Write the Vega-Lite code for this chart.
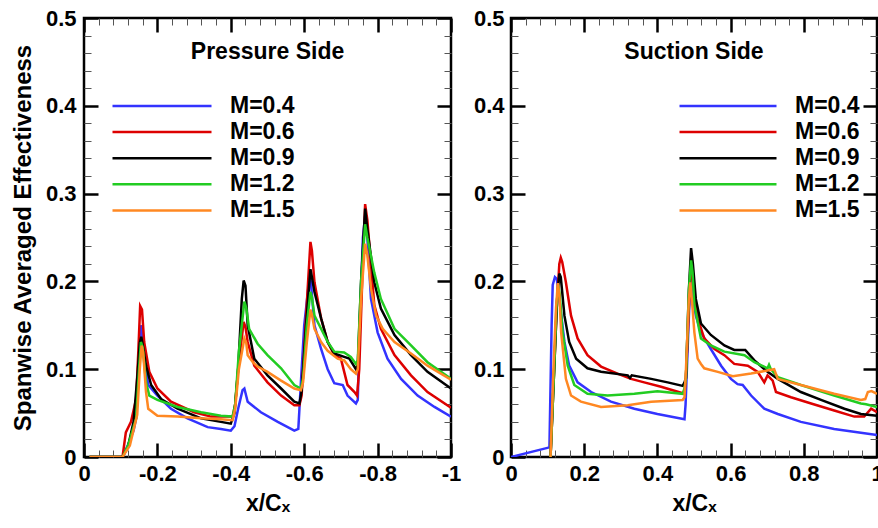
{
 "$schema": "https://vega.github.io/schema/vega-lite/v6.json",
 "padding": {"left": 10, "top": 5, "right": 0, "bottom": 0},
 "background": "white",
 "spacing": 60,
 "bounds": "flush",
 "datasets": {
  "ps": [
   {"x":-0.015,"e":0,"M":"M=0.4"},{"x":-0.105,"e":0,"M":"M=0.4"},{"x":-0.119,"e":0.013,"M":"M=0.4"},{"x":-0.135,"e":0.03,"M":"M=0.4"},{"x":-0.142,"e":0.044,"M":"M=0.4"},{"x":-0.148,"e":0.09,"M":"M=0.4"},{"x":-0.155,"e":0.15,"M":"M=0.4"},{"x":-0.159,"e":0.14,"M":"M=0.4"},{"x":-0.164,"e":0.112,"M":"M=0.4"},{"x":-0.175,"e":0.082,"M":"M=0.4"},{"x":-0.2,"e":0.07,"M":"M=0.4"},{"x":-0.237,"e":0.055,"M":"M=0.4"},{"x":-0.282,"e":0.044,"M":"M=0.4"},{"x":-0.337,"e":0.034,"M":"M=0.4"},{"x":-0.373,"e":0.032,"M":"M=0.4"},{"x":-0.4,"e":0.03,"M":"M=0.4"},{"x":-0.41,"e":0.035,"M":"M=0.4"},{"x":-0.42,"e":0.055,"M":"M=0.4"},{"x":-0.432,"e":0.076,"M":"M=0.4"},{"x":-0.437,"e":0.078,"M":"M=0.4"},{"x":-0.446,"e":0.063,"M":"M=0.4"},{"x":-0.482,"e":0.051,"M":"M=0.4"},{"x":-0.528,"e":0.04,"M":"M=0.4"},{"x":-0.573,"e":0.03,"M":"M=0.4"},{"x":-0.584,"e":0.032,"M":"M=0.4"},{"x":-0.591,"e":0.085,"M":"M=0.4"},{"x":-0.6,"e":0.15,"M":"M=0.4"},{"x":-0.614,"e":0.203,"M":"M=0.4"},{"x":-0.618,"e":0.2,"M":"M=0.4"},{"x":-0.628,"e":0.15,"M":"M=0.4"},{"x":-0.646,"e":0.123,"M":"M=0.4"},{"x":-0.664,"e":0.1,"M":"M=0.4"},{"x":-0.682,"e":0.084,"M":"M=0.4"},{"x":-0.705,"e":0.082,"M":"M=0.4"},{"x":-0.718,"e":0.07,"M":"M=0.4"},{"x":-0.741,"e":0.061,"M":"M=0.4"},{"x":-0.746,"e":0.065,"M":"M=0.4"},{"x":-0.752,"e":0.16,"M":"M=0.4"},{"x":-0.76,"e":0.25,"M":"M=0.4"},{"x":-0.766,"e":0.275,"M":"M=0.4"},{"x":-0.772,"e":0.25,"M":"M=0.4"},{"x":-0.782,"e":0.18,"M":"M=0.4"},{"x":-0.8,"e":0.142,"M":"M=0.4"},{"x":-0.827,"e":0.112,"M":"M=0.4"},{"x":-0.864,"e":0.089,"M":"M=0.4"},{"x":-0.909,"e":0.07,"M":"M=0.4"},{"x":-0.955,"e":0.057,"M":"M=0.4"},{"x":-1,"e":0.046,"M":"M=0.4"},
   {"x":-0.015,"e":0,"M":"M=0.6"},{"x":-0.105,"e":0,"M":"M=0.6"},{"x":-0.114,"e":0.028,"M":"M=0.6"},{"x":-0.128,"e":0.04,"M":"M=0.6"},{"x":-0.142,"e":0.066,"M":"M=0.6"},{"x":-0.148,"e":0.12,"M":"M=0.6"},{"x":-0.153,"e":0.172,"M":"M=0.6"},{"x":-0.158,"e":0.168,"M":"M=0.6"},{"x":-0.164,"e":0.131,"M":"M=0.6"},{"x":-0.178,"e":0.097,"M":"M=0.6"},{"x":-0.2,"e":0.078,"M":"M=0.6"},{"x":-0.237,"e":0.063,"M":"M=0.6"},{"x":-0.3,"e":0.051,"M":"M=0.6"},{"x":-0.346,"e":0.046,"M":"M=0.6"},{"x":-0.405,"e":0.046,"M":"M=0.6"},{"x":-0.412,"e":0.06,"M":"M=0.6"},{"x":-0.42,"e":0.1,"M":"M=0.6"},{"x":-0.435,"e":0.154,"M":"M=0.6"},{"x":-0.44,"e":0.148,"M":"M=0.6"},{"x":-0.446,"e":0.131,"M":"M=0.6"},{"x":-0.464,"e":0.104,"M":"M=0.6"},{"x":-0.5,"e":0.085,"M":"M=0.6"},{"x":-0.537,"e":0.07,"M":"M=0.6"},{"x":-0.573,"e":0.059,"M":"M=0.6"},{"x":-0.587,"e":0.059,"M":"M=0.6"},{"x":-0.593,"e":0.07,"M":"M=0.6"},{"x":-0.605,"e":0.16,"M":"M=0.6"},{"x":-0.617,"e":0.245,"M":"M=0.6"},{"x":-0.621,"e":0.235,"M":"M=0.6"},{"x":-0.628,"e":0.199,"M":"M=0.6"},{"x":-0.646,"e":0.158,"M":"M=0.6"},{"x":-0.664,"e":0.131,"M":"M=0.6"},{"x":-0.682,"e":0.116,"M":"M=0.6"},{"x":-0.7,"e":0.112,"M":"M=0.6"},{"x":-0.709,"e":0.097,"M":"M=0.6"},{"x":-0.718,"e":0.082,"M":"M=0.6"},{"x":-0.737,"e":0.074,"M":"M=0.6"},{"x":-0.744,"e":0.07,"M":"M=0.6"},{"x":-0.75,"e":0.1,"M":"M=0.6"},{"x":-0.758,"e":0.2,"M":"M=0.6"},{"x":-0.766,"e":0.288,"M":"M=0.6"},{"x":-0.772,"e":0.27,"M":"M=0.6"},{"x":-0.791,"e":0.173,"M":"M=0.6"},{"x":-0.809,"e":0.146,"M":"M=0.6"},{"x":-0.846,"e":0.116,"M":"M=0.6"},{"x":-0.891,"e":0.093,"M":"M=0.6"},{"x":-0.936,"e":0.074,"M":"M=0.6"},{"x":-1,"e":0.056,"M":"M=0.6"},
   {"x":-0.015,"e":0,"M":"M=0.9"},{"x":-0.105,"e":0,"M":"M=0.9"},{"x":-0.12,"e":0.012,"M":"M=0.9"},{"x":-0.135,"e":0.04,"M":"M=0.9"},{"x":-0.145,"e":0.09,"M":"M=0.9"},{"x":-0.152,"e":0.13,"M":"M=0.9"},{"x":-0.156,"e":0.137,"M":"M=0.9"},{"x":-0.16,"e":0.128,"M":"M=0.9"},{"x":-0.169,"e":0.104,"M":"M=0.9"},{"x":-0.183,"e":0.082,"M":"M=0.9"},{"x":-0.21,"e":0.066,"M":"M=0.9"},{"x":-0.255,"e":0.055,"M":"M=0.9"},{"x":-0.319,"e":0.044,"M":"M=0.9"},{"x":-0.373,"e":0.04,"M":"M=0.9"},{"x":-0.4,"e":0.038,"M":"M=0.9"},{"x":-0.41,"e":0.05,"M":"M=0.9"},{"x":-0.42,"e":0.1,"M":"M=0.9"},{"x":-0.43,"e":0.18,"M":"M=0.9"},{"x":-0.435,"e":0.201,"M":"M=0.9"},{"x":-0.44,"e":0.195,"M":"M=0.9"},{"x":-0.446,"e":0.15,"M":"M=0.9"},{"x":-0.464,"e":0.112,"M":"M=0.9"},{"x":-0.5,"e":0.093,"M":"M=0.9"},{"x":-0.537,"e":0.078,"M":"M=0.9"},{"x":-0.573,"e":0.063,"M":"M=0.9"},{"x":-0.587,"e":0.061,"M":"M=0.9"},{"x":-0.593,"e":0.075,"M":"M=0.9"},{"x":-0.605,"e":0.15,"M":"M=0.9"},{"x":-0.617,"e":0.214,"M":"M=0.9"},{"x":-0.621,"e":0.205,"M":"M=0.9"},{"x":-0.628,"e":0.188,"M":"M=0.9"},{"x":-0.646,"e":0.158,"M":"M=0.9"},{"x":-0.664,"e":0.131,"M":"M=0.9"},{"x":-0.682,"e":0.118,"M":"M=0.9"},{"x":-0.709,"e":0.114,"M":"M=0.9"},{"x":-0.723,"e":0.112,"M":"M=0.9"},{"x":-0.741,"e":0.1,"M":"M=0.9"},{"x":-0.746,"e":0.105,"M":"M=0.9"},{"x":-0.755,"e":0.2,"M":"M=0.9"},{"x":-0.766,"e":0.283,"M":"M=0.9"},{"x":-0.772,"e":0.26,"M":"M=0.9"},{"x":-0.791,"e":0.199,"M":"M=0.9"},{"x":-0.809,"e":0.169,"M":"M=0.9"},{"x":-0.846,"e":0.139,"M":"M=0.9"},{"x":-0.891,"e":0.116,"M":"M=0.9"},{"x":-0.936,"e":0.097,"M":"M=0.9"},{"x":-1,"e":0.078,"M":"M=0.9"},
   {"x":-0.015,"e":0,"M":"M=1.2"},{"x":-0.105,"e":0,"M":"M=1.2"},{"x":-0.12,"e":0.013,"M":"M=1.2"},{"x":-0.142,"e":0.044,"M":"M=1.2"},{"x":-0.15,"e":0.1,"M":"M=1.2"},{"x":-0.155,"e":0.131,"M":"M=1.2"},{"x":-0.16,"e":0.125,"M":"M=1.2"},{"x":-0.169,"e":0.085,"M":"M=1.2"},{"x":-0.178,"e":0.07,"M":"M=1.2"},{"x":-0.2,"e":0.065,"M":"M=1.2"},{"x":-0.255,"e":0.057,"M":"M=1.2"},{"x":-0.319,"e":0.051,"M":"M=1.2"},{"x":-0.373,"e":0.047,"M":"M=1.2"},{"x":-0.405,"e":0.046,"M":"M=1.2"},{"x":-0.412,"e":0.06,"M":"M=1.2"},{"x":-0.422,"e":0.12,"M":"M=1.2"},{"x":-0.437,"e":0.177,"M":"M=1.2"},{"x":-0.442,"e":0.17,"M":"M=1.2"},{"x":-0.45,"e":0.146,"M":"M=1.2"},{"x":-0.473,"e":0.129,"M":"M=1.2"},{"x":-0.5,"e":0.116,"M":"M=1.2"},{"x":-0.537,"e":0.101,"M":"M=1.2"},{"x":-0.573,"e":0.082,"M":"M=1.2"},{"x":-0.591,"e":0.078,"M":"M=1.2"},{"x":-0.597,"e":0.09,"M":"M=1.2"},{"x":-0.607,"e":0.15,"M":"M=1.2"},{"x":-0.617,"e":0.188,"M":"M=1.2"},{"x":-0.621,"e":0.182,"M":"M=1.2"},{"x":-0.628,"e":0.161,"M":"M=1.2"},{"x":-0.646,"e":0.146,"M":"M=1.2"},{"x":-0.664,"e":0.131,"M":"M=1.2"},{"x":-0.682,"e":0.12,"M":"M=1.2"},{"x":-0.709,"e":0.119,"M":"M=1.2"},{"x":-0.727,"e":0.114,"M":"M=1.2"},{"x":-0.741,"e":0.106,"M":"M=1.2"},{"x":-0.746,"e":0.11,"M":"M=1.2"},{"x":-0.755,"e":0.2,"M":"M=1.2"},{"x":-0.766,"e":0.265,"M":"M=1.2"},{"x":-0.772,"e":0.25,"M":"M=1.2"},{"x":-0.791,"e":0.21,"M":"M=1.2"},{"x":-0.809,"e":0.18,"M":"M=1.2"},{"x":-0.846,"e":0.146,"M":"M=1.2"},{"x":-0.891,"e":0.127,"M":"M=1.2"},{"x":-0.936,"e":0.108,"M":"M=1.2"},{"x":-1,"e":0.089,"M":"M=1.2"},
   {"x":-0.015,"e":0,"M":"M=1.5"},{"x":-0.105,"e":0,"M":"M=1.5"},{"x":-0.125,"e":0.013,"M":"M=1.5"},{"x":-0.145,"e":0.048,"M":"M=1.5"},{"x":-0.152,"e":0.1,"M":"M=1.5"},{"x":-0.157,"e":0.127,"M":"M=1.5"},{"x":-0.161,"e":0.12,"M":"M=1.5"},{"x":-0.169,"e":0.074,"M":"M=1.5"},{"x":-0.175,"e":0.055,"M":"M=1.5"},{"x":-0.2,"e":0.047,"M":"M=1.5"},{"x":-0.255,"e":0.046,"M":"M=1.5"},{"x":-0.319,"e":0.044,"M":"M=1.5"},{"x":-0.373,"e":0.043,"M":"M=1.5"},{"x":-0.405,"e":0.042,"M":"M=1.5"},{"x":-0.412,"e":0.055,"M":"M=1.5"},{"x":-0.422,"e":0.1,"M":"M=1.5"},{"x":-0.437,"e":0.135,"M":"M=1.5"},{"x":-0.442,"e":0.13,"M":"M=1.5"},{"x":-0.446,"e":0.116,"M":"M=1.5"},{"x":-0.46,"e":0.108,"M":"M=1.5"},{"x":-0.473,"e":0.103,"M":"M=1.5"},{"x":-0.5,"e":0.097,"M":"M=1.5"},{"x":-0.537,"e":0.087,"M":"M=1.5"},{"x":-0.573,"e":0.078,"M":"M=1.5"},{"x":-0.591,"e":0.076,"M":"M=1.5"},{"x":-0.597,"e":0.085,"M":"M=1.5"},{"x":-0.607,"e":0.13,"M":"M=1.5"},{"x":-0.617,"e":0.168,"M":"M=1.5"},{"x":-0.621,"e":0.162,"M":"M=1.5"},{"x":-0.628,"e":0.146,"M":"M=1.5"},{"x":-0.646,"e":0.131,"M":"M=1.5"},{"x":-0.664,"e":0.121,"M":"M=1.5"},{"x":-0.691,"e":0.112,"M":"M=1.5"},{"x":-0.709,"e":0.11,"M":"M=1.5"},{"x":-0.727,"e":0.1,"M":"M=1.5"},{"x":-0.741,"e":0.095,"M":"M=1.5"},{"x":-0.746,"e":0.1,"M":"M=1.5"},{"x":-0.755,"e":0.18,"M":"M=1.5"},{"x":-0.766,"e":0.243,"M":"M=1.5"},{"x":-0.772,"e":0.23,"M":"M=1.5"},{"x":-0.782,"e":0.192,"M":"M=1.5"},{"x":-0.796,"e":0.161,"M":"M=1.5"},{"x":-0.814,"e":0.146,"M":"M=1.5"},{"x":-0.846,"e":0.131,"M":"M=1.5"},{"x":-0.891,"e":0.118,"M":"M=1.5"},{"x":-0.936,"e":0.104,"M":"M=1.5"},{"x":-1,"e":0.088,"M":"M=1.5"}
  ],
  "ss": [
   {"x":0,"e":0,"M":"M=0.4"},{"x":0.105,"e":0.011,"M":"M=0.4"},{"x":0.111,"e":0.15,"M":"M=0.4"},{"x":0.114,"e":0.196,"M":"M=0.4"},{"x":0.12,"e":0.205,"M":"M=0.4"},{"x":0.125,"e":0.203,"M":"M=0.4"},{"x":0.132,"e":0.18,"M":"M=0.4"},{"x":0.146,"e":0.131,"M":"M=0.4"},{"x":0.159,"e":0.104,"M":"M=0.4"},{"x":0.182,"e":0.085,"M":"M=0.4"},{"x":0.219,"e":0.074,"M":"M=0.4"},{"x":0.273,"e":0.063,"M":"M=0.4"},{"x":0.337,"e":0.055,"M":"M=0.4"},{"x":0.4,"e":0.049,"M":"M=0.4"},{"x":0.474,"e":0.043,"M":"M=0.4"},{"x":0.477,"e":0.06,"M":"M=0.4"},{"x":0.485,"e":0.15,"M":"M=0.4"},{"x":0.49,"e":0.2,"M":"M=0.4"},{"x":0.494,"e":0.19,"M":"M=0.4"},{"x":0.505,"e":0.161,"M":"M=0.4"},{"x":0.519,"e":0.142,"M":"M=0.4"},{"x":0.546,"e":0.123,"M":"M=0.4"},{"x":0.574,"e":0.104,"M":"M=0.4"},{"x":0.601,"e":0.089,"M":"M=0.4"},{"x":0.619,"e":0.083,"M":"M=0.4"},{"x":0.633,"e":0.082,"M":"M=0.4"},{"x":0.656,"e":0.07,"M":"M=0.4"},{"x":0.692,"e":0.055,"M":"M=0.4"},{"x":0.729,"e":0.049,"M":"M=0.4"},{"x":0.792,"e":0.04,"M":"M=0.4"},{"x":0.883,"e":0.032,"M":"M=0.4"},{"x":1,"e":0.025,"M":"M=0.4"},
   {"x":0.108,"e":0,"M":"M=0.6"},{"x":0.118,"e":0.1,"M":"M=0.6"},{"x":0.125,"e":0.17,"M":"M=0.6"},{"x":0.132,"e":0.22,"M":"M=0.6"},{"x":0.136,"e":0.227,"M":"M=0.6"},{"x":0.14,"e":0.222,"M":"M=0.6"},{"x":0.15,"e":0.199,"M":"M=0.6"},{"x":0.164,"e":0.161,"M":"M=0.6"},{"x":0.182,"e":0.135,"M":"M=0.6"},{"x":0.209,"e":0.116,"M":"M=0.6"},{"x":0.246,"e":0.103,"M":"M=0.6"},{"x":0.291,"e":0.095,"M":"M=0.6"},{"x":0.328,"e":0.089,"M":"M=0.6"},{"x":0.364,"e":0.085,"M":"M=0.6"},{"x":0.41,"e":0.08,"M":"M=0.6"},{"x":0.474,"e":0.072,"M":"M=0.6"},{"x":0.478,"e":0.09,"M":"M=0.6"},{"x":0.486,"e":0.17,"M":"M=0.6"},{"x":0.492,"e":0.22,"M":"M=0.6"},{"x":0.497,"e":0.2,"M":"M=0.6"},{"x":0.51,"e":0.158,"M":"M=0.6"},{"x":0.528,"e":0.135,"M":"M=0.6"},{"x":0.556,"e":0.123,"M":"M=0.6"},{"x":0.583,"e":0.116,"M":"M=0.6"},{"x":0.61,"e":0.106,"M":"M=0.6"},{"x":0.647,"e":0.104,"M":"M=0.6"},{"x":0.674,"e":0.097,"M":"M=0.6"},{"x":0.692,"e":0.085,"M":"M=0.6"},{"x":0.701,"e":0.093,"M":"M=0.6"},{"x":0.715,"e":0.087,"M":"M=0.6"},{"x":0.724,"e":0.074,"M":"M=0.6"},{"x":0.765,"e":0.068,"M":"M=0.6"},{"x":0.82,"e":0.061,"M":"M=0.6"},{"x":0.883,"e":0.053,"M":"M=0.6"},{"x":0.938,"e":0.046,"M":"M=0.6"},{"x":0.965,"e":0.046,"M":"M=0.6"},{"x":0.984,"e":0.055,"M":"M=0.6"},{"x":1,"e":0.051,"M":"M=0.6"},
   {"x":0.108,"e":0,"M":"M=0.9"},{"x":0.118,"e":0.1,"M":"M=0.9"},{"x":0.126,"e":0.18,"M":"M=0.9"},{"x":0.132,"e":0.209,"M":"M=0.9"},{"x":0.136,"e":0.205,"M":"M=0.9"},{"x":0.146,"e":0.161,"M":"M=0.9"},{"x":0.159,"e":0.131,"M":"M=0.9"},{"x":0.178,"e":0.112,"M":"M=0.9"},{"x":0.209,"e":0.101,"M":"M=0.9"},{"x":0.246,"e":0.097,"M":"M=0.9"},{"x":0.319,"e":0.093,"M":"M=0.9"},{"x":0.325,"e":0.09,"M":"M=0.9"},{"x":0.33,"e":0.093,"M":"M=0.9"},{"x":0.383,"e":0.089,"M":"M=0.9"},{"x":0.428,"e":0.085,"M":"M=0.9"},{"x":0.469,"e":0.081,"M":"M=0.9"},{"x":0.474,"e":0.085,"M":"M=0.9"},{"x":0.478,"e":0.09,"M":"M=0.9"},{"x":0.486,"e":0.19,"M":"M=0.9"},{"x":0.492,"e":0.238,"M":"M=0.9"},{"x":0.497,"e":0.22,"M":"M=0.9"},{"x":0.505,"e":0.18,"M":"M=0.9"},{"x":0.519,"e":0.152,"M":"M=0.9"},{"x":0.546,"e":0.139,"M":"M=0.9"},{"x":0.583,"e":0.127,"M":"M=0.9"},{"x":0.61,"e":0.122,"M":"M=0.9"},{"x":0.64,"e":0.122,"M":"M=0.9"},{"x":0.665,"e":0.11,"M":"M=0.9"},{"x":0.701,"e":0.097,"M":"M=0.9"},{"x":0.729,"e":0.089,"M":"M=0.9"},{"x":0.792,"e":0.074,"M":"M=0.9"},{"x":0.847,"e":0.065,"M":"M=0.9"},{"x":0.911,"e":0.055,"M":"M=0.9"},{"x":0.956,"e":0.049,"M":"M=0.9"},{"x":1,"e":0.047,"M":"M=0.9"},
   {"x":0.108,"e":0,"M":"M=1.2"},{"x":0.118,"e":0.1,"M":"M=1.2"},{"x":0.124,"e":0.17,"M":"M=1.2"},{"x":0.129,"e":0.196,"M":"M=1.2"},{"x":0.133,"e":0.185,"M":"M=1.2"},{"x":0.141,"e":0.142,"M":"M=1.2"},{"x":0.155,"e":0.104,"M":"M=1.2"},{"x":0.173,"e":0.082,"M":"M=1.2"},{"x":0.209,"e":0.072,"M":"M=1.2"},{"x":0.264,"e":0.07,"M":"M=1.2"},{"x":0.337,"e":0.072,"M":"M=1.2"},{"x":0.4,"e":0.075,"M":"M=1.2"},{"x":0.469,"e":0.072,"M":"M=1.2"},{"x":0.474,"e":0.078,"M":"M=1.2"},{"x":0.478,"e":0.09,"M":"M=1.2"},{"x":0.486,"e":0.19,"M":"M=1.2"},{"x":0.492,"e":0.224,"M":"M=1.2"},{"x":0.496,"e":0.21,"M":"M=1.2"},{"x":0.501,"e":0.173,"M":"M=1.2"},{"x":0.519,"e":0.135,"M":"M=1.2"},{"x":0.546,"e":0.127,"M":"M=1.2"},{"x":0.583,"e":0.12,"M":"M=1.2"},{"x":0.638,"e":0.116,"M":"M=1.2"},{"x":0.665,"e":0.108,"M":"M=1.2"},{"x":0.701,"e":0.101,"M":"M=1.2"},{"x":0.705,"e":0.105,"M":"M=1.2"},{"x":0.71,"e":0.1,"M":"M=1.2"},{"x":0.729,"e":0.091,"M":"M=1.2"},{"x":0.792,"e":0.082,"M":"M=1.2"},{"x":0.883,"e":0.07,"M":"M=1.2"},{"x":0.956,"e":0.061,"M":"M=1.2"},{"x":0.97,"e":0.06,"M":"M=1.2"},{"x":1,"e":0.057,"M":"M=1.2"},
   {"x":0.108,"e":0,"M":"M=1.5"},{"x":0.116,"e":0.1,"M":"M=1.5"},{"x":0.123,"e":0.17,"M":"M=1.5"},{"x":0.128,"e":0.198,"M":"M=1.5"},{"x":0.132,"e":0.185,"M":"M=1.5"},{"x":0.137,"e":0.142,"M":"M=1.5"},{"x":0.15,"e":0.089,"M":"M=1.5"},{"x":0.164,"e":0.07,"M":"M=1.5"},{"x":0.191,"e":0.063,"M":"M=1.5"},{"x":0.246,"e":0.057,"M":"M=1.5"},{"x":0.319,"e":0.059,"M":"M=1.5"},{"x":0.383,"e":0.063,"M":"M=1.5"},{"x":0.469,"e":0.065,"M":"M=1.5"},{"x":0.474,"e":0.068,"M":"M=1.5"},{"x":0.478,"e":0.1,"M":"M=1.5"},{"x":0.486,"e":0.18,"M":"M=1.5"},{"x":0.49,"e":0.199,"M":"M=1.5"},{"x":0.494,"e":0.18,"M":"M=1.5"},{"x":0.501,"e":0.142,"M":"M=1.5"},{"x":0.51,"e":0.112,"M":"M=1.5"},{"x":0.519,"e":0.106,"M":"M=1.5"},{"x":0.528,"e":0.101,"M":"M=1.5"},{"x":0.565,"e":0.097,"M":"M=1.5"},{"x":0.606,"e":0.092,"M":"M=1.5"},{"x":0.656,"e":0.095,"M":"M=1.5"},{"x":0.719,"e":0.1,"M":"M=1.5"},{"x":0.729,"e":0.089,"M":"M=1.5"},{"x":0.792,"e":0.082,"M":"M=1.5"},{"x":0.883,"e":0.072,"M":"M=1.5"},{"x":0.956,"e":0.065,"M":"M=1.5"},{"x":0.968,"e":0.066,"M":"M=1.5"},{"x":0.975,"e":0.074,"M":"M=1.5"},{"x":0.985,"e":0.075,"M":"M=1.5"},{"x":1,"e":0.072,"M":"M=1.5"}
  ]
 },
 "hconcat": [
  {
   "width": 367, "height": 439,
   "title": {"text": "Pressure Side", "fontSize": 23, "font": "Liberation Sans", "fontWeight": "bold", "offset": -57, "anchor": "middle", "color": "black"},
   "data": {"name": "ps"},
   "layer": [
    {"mark": {"type": "line", "strokeWidth": 2.5, "clip": true},
     "encoding": {
      "x": {"field": "x", "type": "quantitative", "scale": {"domain": [0, -1], "nice": false, "zero": false},
            "axis": {"orient": "bottom", "values": [0, -0.2, -0.4, -0.6, -0.8, -1], "tickSize": -14, "tickWidth": 2.5, "labelPadding": 20, "labelExpr": "datum.value == 0 ? '0' : datum.value == -1 ? '-1' : replace(format(datum.value, '.1f'), '−', '-')", "title": "x/Cₓ", "titleFontSize": 23, "titlePadding": 8}},
      "y": {"field": "e", "type": "quantitative", "scale": {"domain": [0, 0.5], "nice": false},
            "axis": {"orient": "left", "values": [0, 0.1, 0.2, 0.3, 0.4, 0.5], "tickSize": -14, "tickWidth": 2.5, "labelPadding": 22, "labelExpr": "datum.value == 0 ? '0' : format(datum.value, '.1f')", "title": "Spanwise Averaged Effectiveness", "titleFontSize": 24, "titlePadding": 10}},
      "color": {"field": "M", "type": "nominal",
                "scale": {"domain": ["M=0.4", "M=0.6", "M=0.9", "M=1.2", "M=1.5"], "range": ["#3333ff", "#dd0000", "#000000", "#22cc22", "#ff8822"]},
                "legend": {"orient": "none", "legendX": 27, "legendY": 76, "title": null, "symbolType": "stroke", "symbolSize": 9801, "symbolStrokeWidth": 2.5, "clipHeight": 24, "rowPadding": 2.1, "labelFont": "Liberation Sans", "labelFontWeight": "bold", "labelFontSize": 23, "labelColor": "black", "labelOffset": 17, "padding": 0}}
     }},
    {"mark": {"type": "line", "opacity": 0},
     "encoding": {
      "detail": {"field": "M"},
      "x": {"field": "x", "type": "quantitative", "axis": {"orient": "bottom", "values": [-0.04,-0.08,-0.12,-0.16,-0.24,-0.28,-0.32,-0.36,-0.44,-0.48,-0.52,-0.56,-0.64,-0.68,-0.72,-0.76,-0.84,-0.88,-0.92,-0.96], "tickSize": -7, "tickWidth": 1, "tickColor": "#555555", "labels": false, "title": null}},
      "y": {"field": "e", "type": "quantitative", "axis": {"orient": "left", "values": [0.02,0.04,0.06,0.08,0.12,0.14,0.16,0.18,0.22,0.24,0.26,0.28,0.32,0.34,0.36,0.38,0.42,0.44,0.46,0.48], "tickSize": -7, "tickWidth": 1, "tickColor": "#555555", "labels": false, "title": null}}
     }},
    {"mark": {"type": "line", "opacity": 0},
     "encoding": {
      "detail": {"field": "M"},
      "x": {"field": "x", "type": "quantitative", "axis": {"orient": "top", "values": [0, -0.2, -0.4, -0.6, -0.8, -1], "tickSize": -14, "tickWidth": 2.5, "labels": false, "title": null}},
      "y": {"field": "e", "type": "quantitative", "axis": {"orient": "right", "values": [0, 0.1, 0.2, 0.3, 0.4, 0.5], "tickSize": -14, "tickWidth": 2.5, "labels": false, "title": null}}
     }},
    {"mark": {"type": "line", "opacity": 0},
     "encoding": {
      "detail": {"field": "M"},
      "x": {"field": "x", "type": "quantitative", "axis": {"orient": "top", "values": [-0.04,-0.08,-0.12,-0.16,-0.24,-0.28,-0.32,-0.36,-0.44,-0.48,-0.52,-0.56,-0.64,-0.68,-0.72,-0.76,-0.84,-0.88,-0.92,-0.96], "tickSize": -7, "tickWidth": 1, "tickColor": "#555555", "labels": false, "title": null}},
      "y": {"field": "e", "type": "quantitative", "axis": {"orient": "right", "values": [0.02,0.04,0.06,0.08,0.12,0.14,0.16,0.18,0.22,0.24,0.26,0.28,0.32,0.34,0.36,0.38,0.42,0.44,0.46,0.48], "tickSize": -7, "tickWidth": 1, "tickColor": "#555555", "labels": false, "title": null}}
     }}
   ],
   "resolve": {"axis": {"x": "independent", "y": "independent"}}
  },
  {
   "width": 366, "height": 439,
   "title": {"text": "Suction Side", "fontSize": 23, "font": "Liberation Sans", "fontWeight": "bold", "offset": -57, "anchor": "middle", "color": "black"},
   "data": {"name": "ss"},
   "layer": [
    {"mark": {"type": "line", "strokeWidth": 2.5, "clip": true},
     "encoding": {
      "x": {"field": "x", "type": "quantitative", "scale": {"domain": [0, 1], "nice": false, "zero": false},
            "axis": {"orient": "bottom", "values": [0, 0.2, 0.4, 0.6, 0.8, 1], "tickSize": -14, "tickWidth": 2.5, "labelPadding": 20, "labelExpr": "datum.value == 0 ? '0' : datum.value == 1 ? '1' : format(datum.value, '.1f')", "title": "x/Cₓ", "titleFontSize": 23, "titlePadding": 8}},
      "y": {"field": "e", "type": "quantitative", "scale": {"domain": [0, 0.5], "nice": false},
            "axis": {"orient": "left", "values": [0, 0.1, 0.2, 0.3, 0.4, 0.5], "tickSize": -14, "tickWidth": 2.5, "labelPadding": 21, "labelExpr": "datum.value == 0 ? '0' : format(datum.value, '.1f')", "title": null}},
      "color": {"field": "M", "type": "nominal",
                "scale": {"domain": ["M=0.4", "M=0.6", "M=0.9", "M=1.2", "M=1.5"], "range": ["#3333ff", "#dd0000", "#000000", "#22cc22", "#ff8822"]},
                "legend": {"orient": "none", "legendX": 167, "legendY": 76, "title": null, "symbolType": "stroke", "symbolSize": 9409, "symbolStrokeWidth": 2.5, "clipHeight": 24, "rowPadding": 2.1, "labelFont": "Liberation Sans", "labelFontWeight": "bold", "labelFontSize": 23, "labelColor": "black", "labelOffset": 17, "padding": 0}}
     }},
    {"mark": {"type": "line", "opacity": 0},
     "encoding": {
      "detail": {"field": "M"},
      "x": {"field": "x", "type": "quantitative", "axis": {"orient": "bottom", "values": [0.04,0.08,0.12,0.16,0.24,0.28,0.32,0.36,0.44,0.48,0.52,0.56,0.64,0.68,0.72,0.76,0.84,0.88,0.92,0.96], "tickSize": -7, "tickWidth": 1, "tickColor": "#555555", "labels": false, "title": null}},
      "y": {"field": "e", "type": "quantitative", "axis": {"orient": "left", "values": [0.02,0.04,0.06,0.08,0.12,0.14,0.16,0.18,0.22,0.24,0.26,0.28,0.32,0.34,0.36,0.38,0.42,0.44,0.46,0.48], "tickSize": -7, "tickWidth": 1, "tickColor": "#555555", "labels": false, "title": null}}
     }},
    {"mark": {"type": "line", "opacity": 0},
     "encoding": {
      "detail": {"field": "M"},
      "x": {"field": "x", "type": "quantitative", "axis": {"orient": "top", "values": [0, 0.2, 0.4, 0.6, 0.8, 1], "tickSize": -14, "tickWidth": 2.5, "labels": false, "title": null}},
      "y": {"field": "e", "type": "quantitative", "axis": {"orient": "right", "values": [0, 0.1, 0.2, 0.3, 0.4, 0.5], "tickSize": -14, "tickWidth": 2.5, "labels": false, "title": null}}
     }},
    {"mark": {"type": "line", "opacity": 0},
     "encoding": {
      "detail": {"field": "M"},
      "x": {"field": "x", "type": "quantitative", "axis": {"orient": "top", "values": [0.04,0.08,0.12,0.16,0.24,0.28,0.32,0.36,0.44,0.48,0.52,0.56,0.64,0.68,0.72,0.76,0.84,0.88,0.92,0.96], "tickSize": -7, "tickWidth": 1, "tickColor": "#555555", "labels": false, "title": null}},
      "y": {"field": "e", "type": "quantitative", "axis": {"orient": "right", "values": [0.02,0.04,0.06,0.08,0.12,0.14,0.16,0.18,0.22,0.24,0.26,0.28,0.32,0.34,0.36,0.38,0.42,0.44,0.46,0.48], "tickSize": -7, "tickWidth": 1, "tickColor": "#555555", "labels": false, "title": null}}
     }}
   ],
   "resolve": {"axis": {"x": "independent", "y": "independent"}}
  }
 ],
 "resolve": {"scale": {"color": "independent"}, "legend": {"color": "independent"}},
 "config": {
  "view": {"stroke": "black", "strokeWidth": 2.5},
  "font": "Liberation Sans",
  "axis": {"labelFont": "Liberation Sans", "labelFontWeight": "bold", "labelFontSize": 22, "labelColor": "black", "titleFont": "Liberation Sans", "titleFontWeight": "bold", "titleColor": "black", "domain": false, "grid": false, "tickColor": "black", "labelFlush": false, "labelOverlap": false}
 }
}
